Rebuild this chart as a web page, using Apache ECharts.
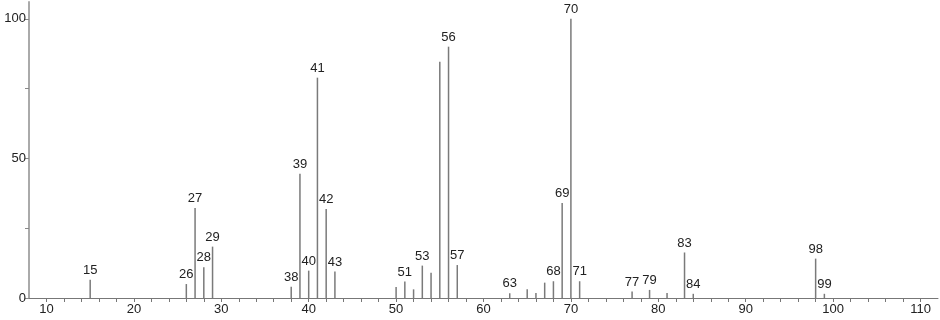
<!DOCTYPE html>
<html>
<head>
<meta charset="utf-8">
<script src="https://cdn.jsdelivr.net/npm/echarts@6/dist/echarts.min.js"></script>
<style>
html,body{margin:0;padding:0;background:#fff;}
#chart{width:940px;height:320px;}
</style>
</head>
<body>
<div id="chart"></div>
<script>
// m/z values and relative intensities
const mz = [15, 26, 27, 28, 29, 38, 39, 40, 41, 42, 43, 50, 51, 52, 53, 54, 55, 56, 57, 63, 65, 66, 67, 68, 69, 70, 71, 77, 79, 81, 83, 84, 98, 99];
const intensity = [6.5, 5.0, 32.2, 11.0, 18.4, 4.0, 44.5, 9.8, 78.9, 31.9, 9.5, 3.9, 5.9, 3.1, 11.6, 9.0, 84.6, 90.0, 11.8, 1.7, 3.1, 1.8, 5.5, 6.0, 34.0, 100, 6.0, 2.3, 2.9, 1.8, 16.3, 1.5, 14.1, 1.5];
// peaks carrying a text label
const labelled = [15, 26, 27, 28, 29, 38, 39, 40, 41, 42, 43, 51, 53, 56, 57, 63, 68, 69, 70, 71, 77, 79, 83, 84, 98, 99];
// tick labels
const xTickLabels = [10, 20, 30, 40, 50, 60, 70, 80, 90, 100, 110];
const xTickMarks = [10,12,14,16,18,20,22,24,26,28,30,32,34,36,38,40,42,44,46,48,50,52,54,56,58,60,62,64,66,68,70,72,74,76,78,80,82,84,86,88,90,92,94,96,98,100,102,104,106,108,110];
const yTickLabels = [0, 50, 100];
const yTickMarks = [0, 25, 50, 75, 100];

const FONT = '"Liberation Sans", Arial, sans-serif';

const data = mz.map((m, i) => ({
  value: [m, intensity[i]],
  label: { show: labelled.indexOf(m) >= 0 }
}));

const chart = echarts.init(document.getElementById('chart'), null, { renderer: 'canvas' });
chart.setOption({
  animation: false,
  grid: { left: 29, right: 2, top: 2, bottom: 22 },
  xAxis: {
    type: 'value',
    min: 8,
    max: 112,
    splitLine: { show: false },
    axisLine: { show: true, lineStyle: { color: '#777', width: 1 } },
    axisTick: { show: true, customValues: xTickMarks, length: 4, lineStyle: { color: '#777' } },
    axisLabel: { customValues: xTickLabels, color: '#222', fontFamily: FONT, fontSize: 13, margin: 5 }
  },
  yAxis: {
    type: 'value',
    min: 0,
    max: 106,
    splitLine: { show: false },
    axisLine: { show: true, lineStyle: { color: '#aaa', width: 2 } },
    axisTick: { show: true, customValues: yTickMarks, length: 4, lineStyle: { color: '#888' } },
    axisLabel: { customValues: yTickLabels, color: '#222', fontFamily: FONT, fontSize: 13, margin: 3 }
  },
  series: [{
    type: 'bar',
    barWidth: 1.5,
    itemStyle: { color: '#7a7a7a' },
    label: {
      position: 'top',
      distance: 3,
      color: '#222',
      fontFamily: FONT,
      fontSize: 13,
      formatter: p => String(p.value[0])
    },
    data: data
  }]
});
</script>
</body>
</html>
